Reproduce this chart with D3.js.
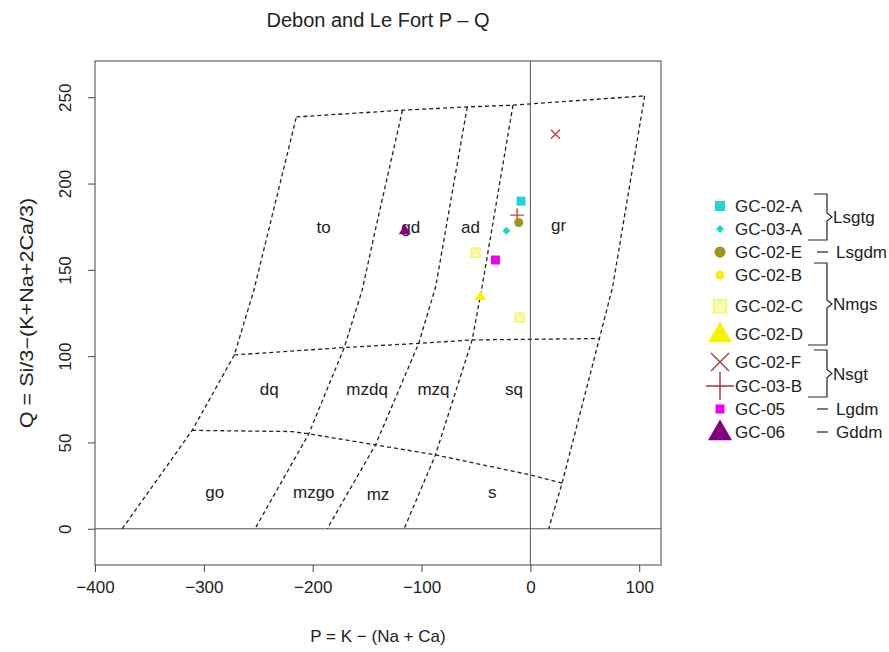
<!DOCTYPE html>
<meta charset="utf-8">
<script src="https://d3js.org/d3.v7.min.js"></script>
<style>
  body { margin: 0; background: #fff; }
  text { font-family: "Liberation Sans", Arial, sans-serif; fill: #222; }
</style>
<div id="chart"></div>
<script>

// ---- data ----
const pointSample = ["GC-02-F", "GC-02-A", "GC-03-B", "GC-02-E", "GC-03-A", "GC-06", "GC-02-C", "GC-05", "GC-02-D", "GC-02-C"];
const pointP = [23, -8.6, -12.2, -10.7, -22, -115.4, -50.5, -32.1, -45.9, -9.8];
const pointQ = [228.6, 189.8, 181.7, 177.4, 172.7, 173, 160, 155.7, 134.8, 122.3];

const legendSamples = ["GC-02-A", "GC-03-A", "GC-02-E", "GC-02-B", "GC-02-C", "GC-02-D", "GC-02-F", "GC-03-B", "GC-05", "GC-06"];
const legendGroups = [["Lsgtg", 0, 1], ["Lsgdm", 2, 2], ["Nmgs", 3, 5], ["Nsgt", 6, 7], ["Lgdm", 8, 8], ["Gddm", 9, 9]];

const xTicks = [-400, -300, -200, -100, 0, 100];
const yTicks = [0, 50, 100, 150, 200, 250];

// diagram template (P, Q) boundaries
const boundaries = [
  [[-375, 0], [-310.7, 57], [-272, 100.7], [-254, 138.3], [-215, 238.6]],
  [[-117.5, 242.5], [-142.5, 173], [-154.5, 138.3], [-171, 105], [-203.6, 55], [-253, 0]],
  [[-58, 244.4], [-87, 140.2], [-102.6, 107.4], [-142.3, 48.6], [-186.7, 0]],
  [[-16, 245.4], [-44.4, 140.2], [-53.5, 109.4], [-87.2, 42.8], [-116, 0]],
  [[105, 250.8], [75.6, 140.2], [63.4, 110.2], [29.1, 26.4], [16.8, 0]],
  [[-215, 238.6], [-117.5, 242.5], [-58, 244.4], [-16, 245.4], [105, 250.8]],
  [[-272, 100.7], [-171, 105], [-102.6, 107.4], [-53.5, 109.4], [63.4, 110.2]],
  [[-310.7, 57], [-218.8, 56.3], [-203.6, 55], [-142.3, 48.6], [-87.2, 42.8], [0, 31.2], [29.1, 26.4]]
];

const fieldNames = ["to", "gd", "ad", "gr", "dq", "mzdq", "mzq", "sq", "go", "mzgo", "mz", "s"];
const fieldP = [-190, -110, -55, 26, -240, -150, -89, -15, -290, -199, -140, -35];
const fieldQ = [175, 175, 175, 176, 81, 81, 81, 81, 21, 21, 20, 21];

// symbol style per sample
const sampleStyle = {
  "GC-02-A": {shape: "square", color: "#22d3d3", size: 9, lsize: 10},
  "GC-03-A": {shape: "diamond", color: "#22d3d3", size: 8, lsize: 8},
  "GC-02-E": {shape: "circle", color: "#9a9a16", size: 9, lsize: 11},
  "GC-02-B": {shape: "circle", color: "#f4f400", size: 8, lsize: 9},
  "GC-02-C": {shape: "sqtri", color: "#f6f67a", size: 9, lsize: 13},
  "GC-02-D": {shape: "triangle", color: "#f4f400", size: 11, lsize: 24},
  "GC-02-F": {shape: "cross", color: "#d23c3c", size: 9, lsize: 18, lcolor: "#a03838"},
  "GC-03-B": {shape: "plus", color: "#d23c3c", size: 14, lsize: 28, lcolor: "#a03838"},
  "GC-05": {shape: "square", color: "#f000f0", size: 9, lsize: 9},
  "GC-06": {shape: "triangle", color: "#800080", size: 12, lsize: 24}
};

// ---- layout ----
const W = 889, H = 652;
const svg = d3.select("#chart").append("svg").attr("width", W).attr("height", H);

const x = d3.scaleLinear().domain([-400, 120]).range([95, 661]);
const y = d3.scaleLinear().domain([-21, 271]).range([565, 61]);

// symbol drawing
function drawSymbol(g, shape, cx, cy, s, color) {
  const h = s / 2;
  if (shape === "square") {
    g.append("rect").attr("x", cx - h).attr("y", cy - h).attr("width", s).attr("height", s).attr("fill", color);
  } else if (shape === "diamond") {
    g.append("path").attr("d", `M${cx},${cy - h}L${cx + h},${cy}L${cx},${cy + h}L${cx - h},${cy}Z`).attr("fill", color);
  } else if (shape === "circle") {
    g.append("circle").attr("cx", cx).attr("cy", cy).attr("r", h).attr("fill", color);
  } else if (shape === "triangle") {
    const th = s * 0.87;
    g.append("path").attr("d", `M${cx},${cy - th * 0.6}L${cx + h},${cy + th * 0.4}L${cx - h},${cy + th * 0.4}Z`).attr("fill", color);
  } else if (shape === "sqtri") {
    g.append("rect").attr("x", cx - h).attr("y", cy - h).attr("width", s).attr("height", s)
      .attr("fill", "none").attr("stroke", color).attr("stroke-width", 1.6);
    g.append("path").attr("d", `M${cx},${cy - h}L${cx + h},${cy + h}L${cx - h},${cy + h}Z`)
      .attr("fill", "none").attr("stroke", color).attr("stroke-width", 1.4);
    g.append("rect").attr("x", cx - h).attr("y", cy - h).attr("width", s).attr("height", s)
      .attr("fill", color).attr("opacity", 0.45);
  } else if (shape === "cross") {
    g.append("path").attr("d", `M${cx - h},${cy - h}L${cx + h},${cy + h}M${cx - h},${cy + h}L${cx + h},${cy - h}`)
      .attr("stroke", color).attr("stroke-width", 1.4).attr("fill", "none");
  } else if (shape === "plus") {
    g.append("path").attr("d", `M${cx - h},${cy}L${cx + h},${cy}M${cx},${cy - h}L${cx},${cy + h}`)
      .attr("stroke", color).attr("stroke-width", 1.4).attr("fill", "none");
  }
}

// title and axis labels
svg.append("text").attr("x", 378).attr("y", 27).attr("text-anchor", "middle")
  .attr("font-size", 20).text("Debon and Le Fort P \u2013 Q");
svg.append("text").attr("x", 378).attr("y", 642).attr("text-anchor", "middle")
  .attr("font-size", 17).text("P = K \u2212 (Na + Ca)");
svg.append("text").attr("transform", "translate(33,313) rotate(-90) scale(1.2,1)").attr("text-anchor", "middle")
  .attr("font-size", 18).text("Q = Si/3\u2212(K+Na+2Ca/3)");

// axes
const xAxis = svg.append("g").attr("transform", "translate(0,565)")
  .call(d3.axisBottom(x).tickValues(xTicks).tickSize(7).tickPadding(9).tickFormat(d => d < 0 ? "\u2212" + (-d) : d));
const yAxis = svg.append("g").attr("transform", "translate(95,0)")
  .call(d3.axisLeft(y).tickValues(yTicks).tickSize(7));
[xAxis, yAxis].forEach(a => {
  a.selectAll("text").attr("font-size", 17).attr("fill", "#222").attr("font-family", "Liberation Sans, Arial, sans-serif");
  a.selectAll("line").attr("stroke", "#444");
  a.select(".domain").remove();
});
yAxis.selectAll(".tick text").attr("x", null).attr("dy", 0)
  .attr("transform", "translate(-24,0) rotate(-90)").attr("text-anchor", "middle");

// plot frame and zero lines
svg.append("rect").attr("x", 95).attr("y", 61).attr("width", 566).attr("height", 504)
  .attr("fill", "none").attr("stroke", "#444").attr("stroke-width", 1);
svg.append("line").attr("x1", x(0)).attr("x2", x(0)).attr("y1", 61).attr("y2", 565).attr("stroke", "#555");
svg.append("line").attr("x1", 95).attr("x2", 661).attr("y1", y(0)).attr("y2", y(0)).attr("stroke", "#555");

// field boundaries
const line = d3.line().x(d => x(d[0])).y(d => y(d[1]));
svg.append("g").selectAll("path").data(boundaries).enter().append("path")
  .attr("d", line).attr("fill", "none").attr("stroke", "#222")
  .attr("stroke-width", 1.3).attr("stroke-dasharray", "4,3");

// field names
svg.append("g").selectAll("text").data(fieldNames).enter().append("text")
  .attr("x", (d, i) => x(fieldP[i])).attr("y", (d, i) => y(fieldQ[i]))
  .attr("dy", "0.35em").attr("text-anchor", "middle").attr("font-size", 17).text(d => d);

// points
const pts = svg.append("g");
pointSample.forEach((s, i) => {
  const st = sampleStyle[s];
  drawSymbol(pts, st.shape, x(pointP[i]), y(pointQ[i]), st.size, st.color);
});

// legend
const rowY = [206, 229, 252, 275, 306, 334, 362, 386, 409, 432];
const leg = svg.append("g");
legendSamples.forEach((s, i) => {
  const st = sampleStyle[s];
  drawSymbol(leg, st.shape, 720, rowY[i], st.lsize, st.lcolor || st.color);
  leg.append("text").attr("x", 735).attr("y", rowY[i]).attr("dy", "0.36em")
    .attr("font-size", 17).text(s);
});
legendGroups.forEach(g => {
  const [name, a, b] = g;
  if (a === b) {
    leg.append("line").attr("x1", 817).attr("x2", 828).attr("y1", rowY[a]).attr("y2", rowY[a])
      .attr("stroke", "#222").attr("stroke-width", 1.2);
    leg.append("text").attr("x", 836).attr("y", rowY[a]).attr("dy", "0.36em").attr("font-size", 17).text(name);
  } else {
    const top = rowY[a] - 12, bot = rowY[b] + 11, mid = (top + bot) / 2;
    leg.append("path")
      .attr("d", `M814,${top}L827,${top}L827,${mid - 4}L832,${mid}L827,${mid + 4}L827,${bot}L808,${bot}`)
      .attr("fill", "none").attr("stroke", "#222").attr("stroke-width", 1.2);
    leg.append("text").attr("x", 833).attr("y", mid).attr("dy", "0.36em").attr("font-size", 17).text(name);
  }
});

</script>
